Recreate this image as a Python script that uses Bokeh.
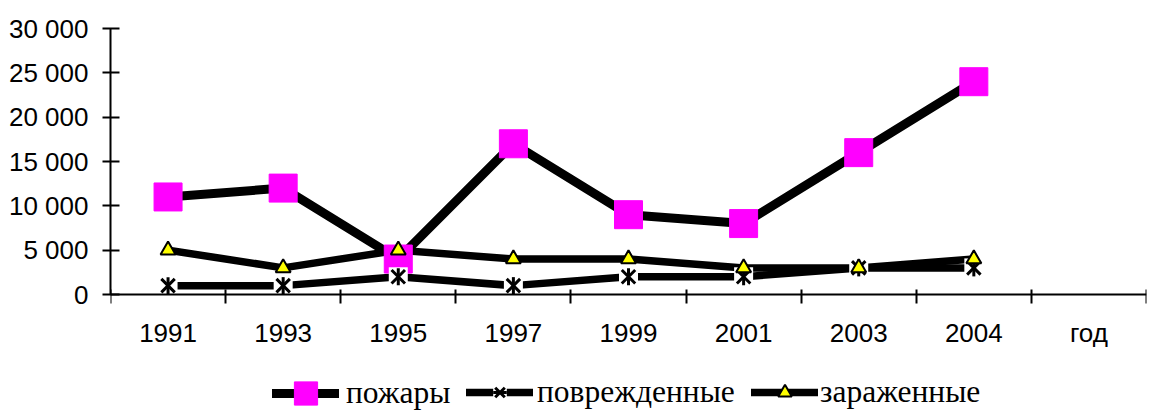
import math
from bokeh.plotting import figure
from bokeh.models import FixedTicker, Range1d, Legend, LegendItem
from bokeh.embed import file_html
from bokeh.resources import INLINE

# ---- data ----
categories = ["1991", "1993", "1995", "1997", "1999", "2001", "2003", "2004", "год"]
years = ["1991", "1993", "1995", "1997", "1999", "2001", "2003", "2004"]
fires = [11000, 12000, 4000, 17000, 9000, 8000, 16000, 24000]
damaged = [1000, 1000, 2000, 1000, 2000, 2000, 3000, 3000]
infected = [5000, 3000, 5000, 4000, 4000, 3000, 3000, 4000]
series_names = ["пожары", "поврежденные", "зараженные"]
y_ticks = [0, 5000, 10000, 15000, 20000, 25000, 30000]
y_tick_labels = ["0", "5 000", "10 000", "15 000", "20 000", "25 000", "30 000"]

# layout geometry (pixels)
W, H = 1150, 411
LEFT, RIGHT, TOP = 110, 4, 28
AXIS_PX = 266           # pixel height of the 0..30000 value span
frame_h = H - TOP
y_max = y_ticks[-1]
y_min = -y_max * (frame_h - AXIS_PX) / AXIS_PX   # room under the axis for labels + legend

# category centres on a numeric axis (boundaries at integers)
x_centers = [i + 0.5 for i in range(len(categories))]
x = x_centers[:len(years)]

p = figure(width=W, height=H, output_backend="svg", toolbar_location=None,
           x_range=Range1d(0, len(categories)), y_range=Range1d(y_min, y_max),
           min_border_left=LEFT, min_border_right=RIGHT, min_border_top=TOP,
           min_border_bottom=0)
p.xgrid.visible = False
p.ygrid.visible = False
p.outline_line_color = None
p.background_fill_color = "white"
p.border_fill_color = "white"

# x axis drawn at value 0: labels at centres, tick marks at category boundaries
xa = p.xaxis[0]
xa.fixed_location = 0
xa.ticker = FixedTicker(ticks=x_centers, minor_ticks=list(range(len(categories) + 1)))
xa.major_label_overrides = {c: lab for c, lab in zip(x_centers, categories)}
xa.major_tick_in = 0
xa.major_tick_out = 0
xa.minor_tick_in = 5
xa.minor_tick_out = 9
xa.minor_tick_line_width = 2
xa.minor_tick_line_color = "black"
xa.axis_line_width = 2
xa.axis_line_color = "black"
xa.major_label_standoff = 14
xa.major_label_text_font = "Liberation Sans"
xa.major_label_text_font_size = "26px"
xa.major_label_text_color = "black"

ya = p.yaxis[0]
ya.bounds = (0, y_max)
ya.ticker = FixedTicker(ticks=y_ticks, minor_ticks=[])
ya.major_label_overrides = {t: lab for t, lab in zip(y_ticks, y_tick_labels)}
ya.major_tick_in = 9
ya.major_tick_out = 8
ya.major_tick_line_width = 2
ya.major_tick_line_color = "black"
ya.axis_line_width = 2
ya.axis_line_color = "black"
ya.major_label_standoff = 14
ya.major_label_text_font = "Liberation Sans"
ya.major_label_text_font_size = "26px"
ya.major_label_text_color = "black"

# lines
l_f = p.line(x, fires, line_width=9, line_color="black", line_join="round", line_cap="round")
l_d = p.line(x, damaged, line_width=7.5, line_color="black", line_join="round", line_cap="round")
l_i = p.line(x, infected, line_width=7.5, line_color="black", line_join="round", line_cap="round")

# markers
m_f = p.scatter(x, fires, marker="square", size=28, fill_color="#ff00ff", line_color="#ff00ff", line_width=1)
m_d_bg = p.scatter(x, damaged, marker="square", size=19, fill_color="white", line_color=None)
m_d_x = p.scatter(x, damaged, marker="x", size=19, line_color="black", line_width=3)
m_d_v = p.scatter(x, damaged, marker="dash", size=17, angle=math.pi / 2, line_color="black", line_width=3)
m_i = p.scatter(x, infected, marker="triangle", size=15, fill_color="#ffff00", line_color="black", line_width=2)

ROW_CENTER = 18   # legend row centre, pixels above the frame bottom

def make_legend(label, renderers, vx, gh, standoff):
    lg = Legend(items=[LegendItem(label=label, renderers=renderers)],
                location=(vx, ROW_CENTER - gh / 2), orientation="horizontal",
                glyph_width=67, glyph_height=gh, label_height=gh,
                label_standoff=standoff, padding=0, margin=0, spacing=0,
                border_line_color=None, background_fill_alpha=0,
                label_text_font="Liberation Serif", label_text_font_size="31.5px",
                label_text_color="black")
    p.add_layout(lg, "center")
    return lg

make_legend(series_names[0], [l_f, m_f], 162, 58, 7)
make_legend(series_names[1], [l_d, m_d_bg, m_d_x, m_d_v], 356, 34, 4)
make_legend(series_names[2], [l_i, m_i], 641, 34, 2)

open("out.html", "w").write(file_html(p, INLINE))
